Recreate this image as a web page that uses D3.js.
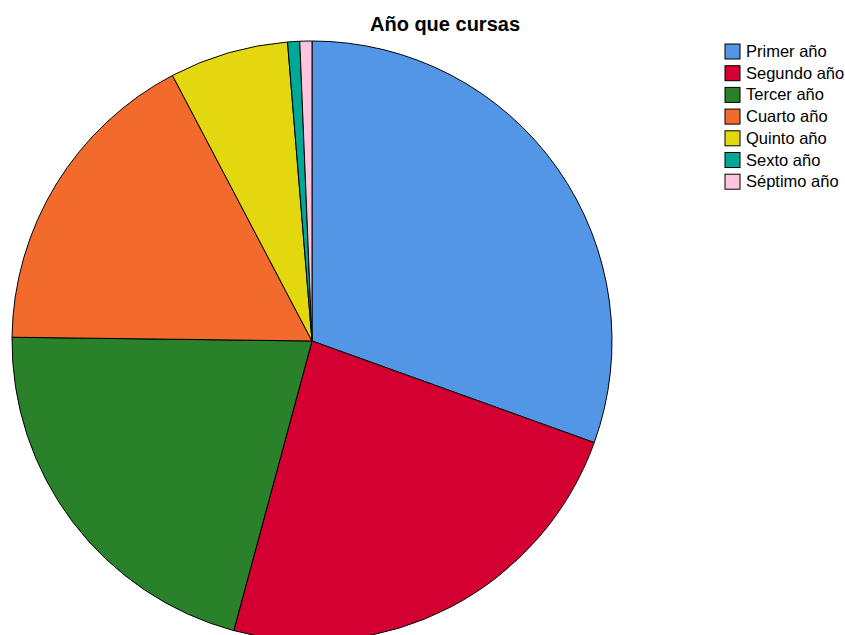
<!DOCTYPE html>
<html>
<head>
<meta charset="utf-8">
<script src="https://cdn.jsdelivr.net/npm/d3@7"></script>
<style>
  body { margin: 0; background: #fff; }
  text { font-family: "Liberation Sans", Arial, sans-serif; }
</style>
</head>
<body>
<div id="chart"></div>
<script>
// categories and shares (percent)
const categories = ['Primer año', 'Segundo año', 'Tercer año', 'Cuarto año', 'Quinto año', 'Sexto año', 'Séptimo año'];
const values = [30.5, 23.7, 21.0, 17.1, 6.4, 0.65, 0.65];
const colors = ['#5396e5', '#d50032', '#29812a', '#f26b2c', '#e3d710', '#00a898', '#ffc5de'];

const width = 845, height = 635;

const svg = d3.select('#chart')
    .append('svg')
    .attr('width', width)
    .attr('height', height);

// title
svg.append('text')
    .attr('x', 445)
    .attr('y', 31)
    .attr('text-anchor', 'middle')
    .style('font-size', '20px')
    .style('font-weight', 'bold')
    .text('Año que cursas');

// pie, starting at 12 o'clock and going clockwise
const color = d3.scaleOrdinal().domain(categories).range(colors);
const pie = d3.pie().sort(null).value(d => d.value);
const arc = d3.arc().innerRadius(0).outerRadius(300);

const data = categories.map((c, i) => ({ name: c, value: values[i] }));

const pieG = svg.append('g').attr('transform', 'translate(312,341)');
pieG.selectAll('path')
    .data(pie(data))
    .enter()
    .append('path')
    .attr('d', arc)
    .attr('fill', d => color(d.data.name))
    .attr('stroke', '#000')
    .attr('stroke-width', 1);

// legend
const legendG = svg.append('g').attr('transform', 'translate(725,44)');
const rows = legendG.selectAll('g')
    .data(categories)
    .enter()
    .append('g')
    .attr('transform', (d, i) => 'translate(0,' + (i * 21.7) + ')');
rows.append('rect')
    .attr('width', 15)
    .attr('height', 15)
    .attr('fill', d => color(d))
    .attr('stroke', '#000')
    .attr('stroke-width', 1);
rows.append('text')
    .attr('x', 21)
    .attr('y', 13)
    .style('font-size', '16.5px')
    .text(d => d);
</script>
</body>
</html>
